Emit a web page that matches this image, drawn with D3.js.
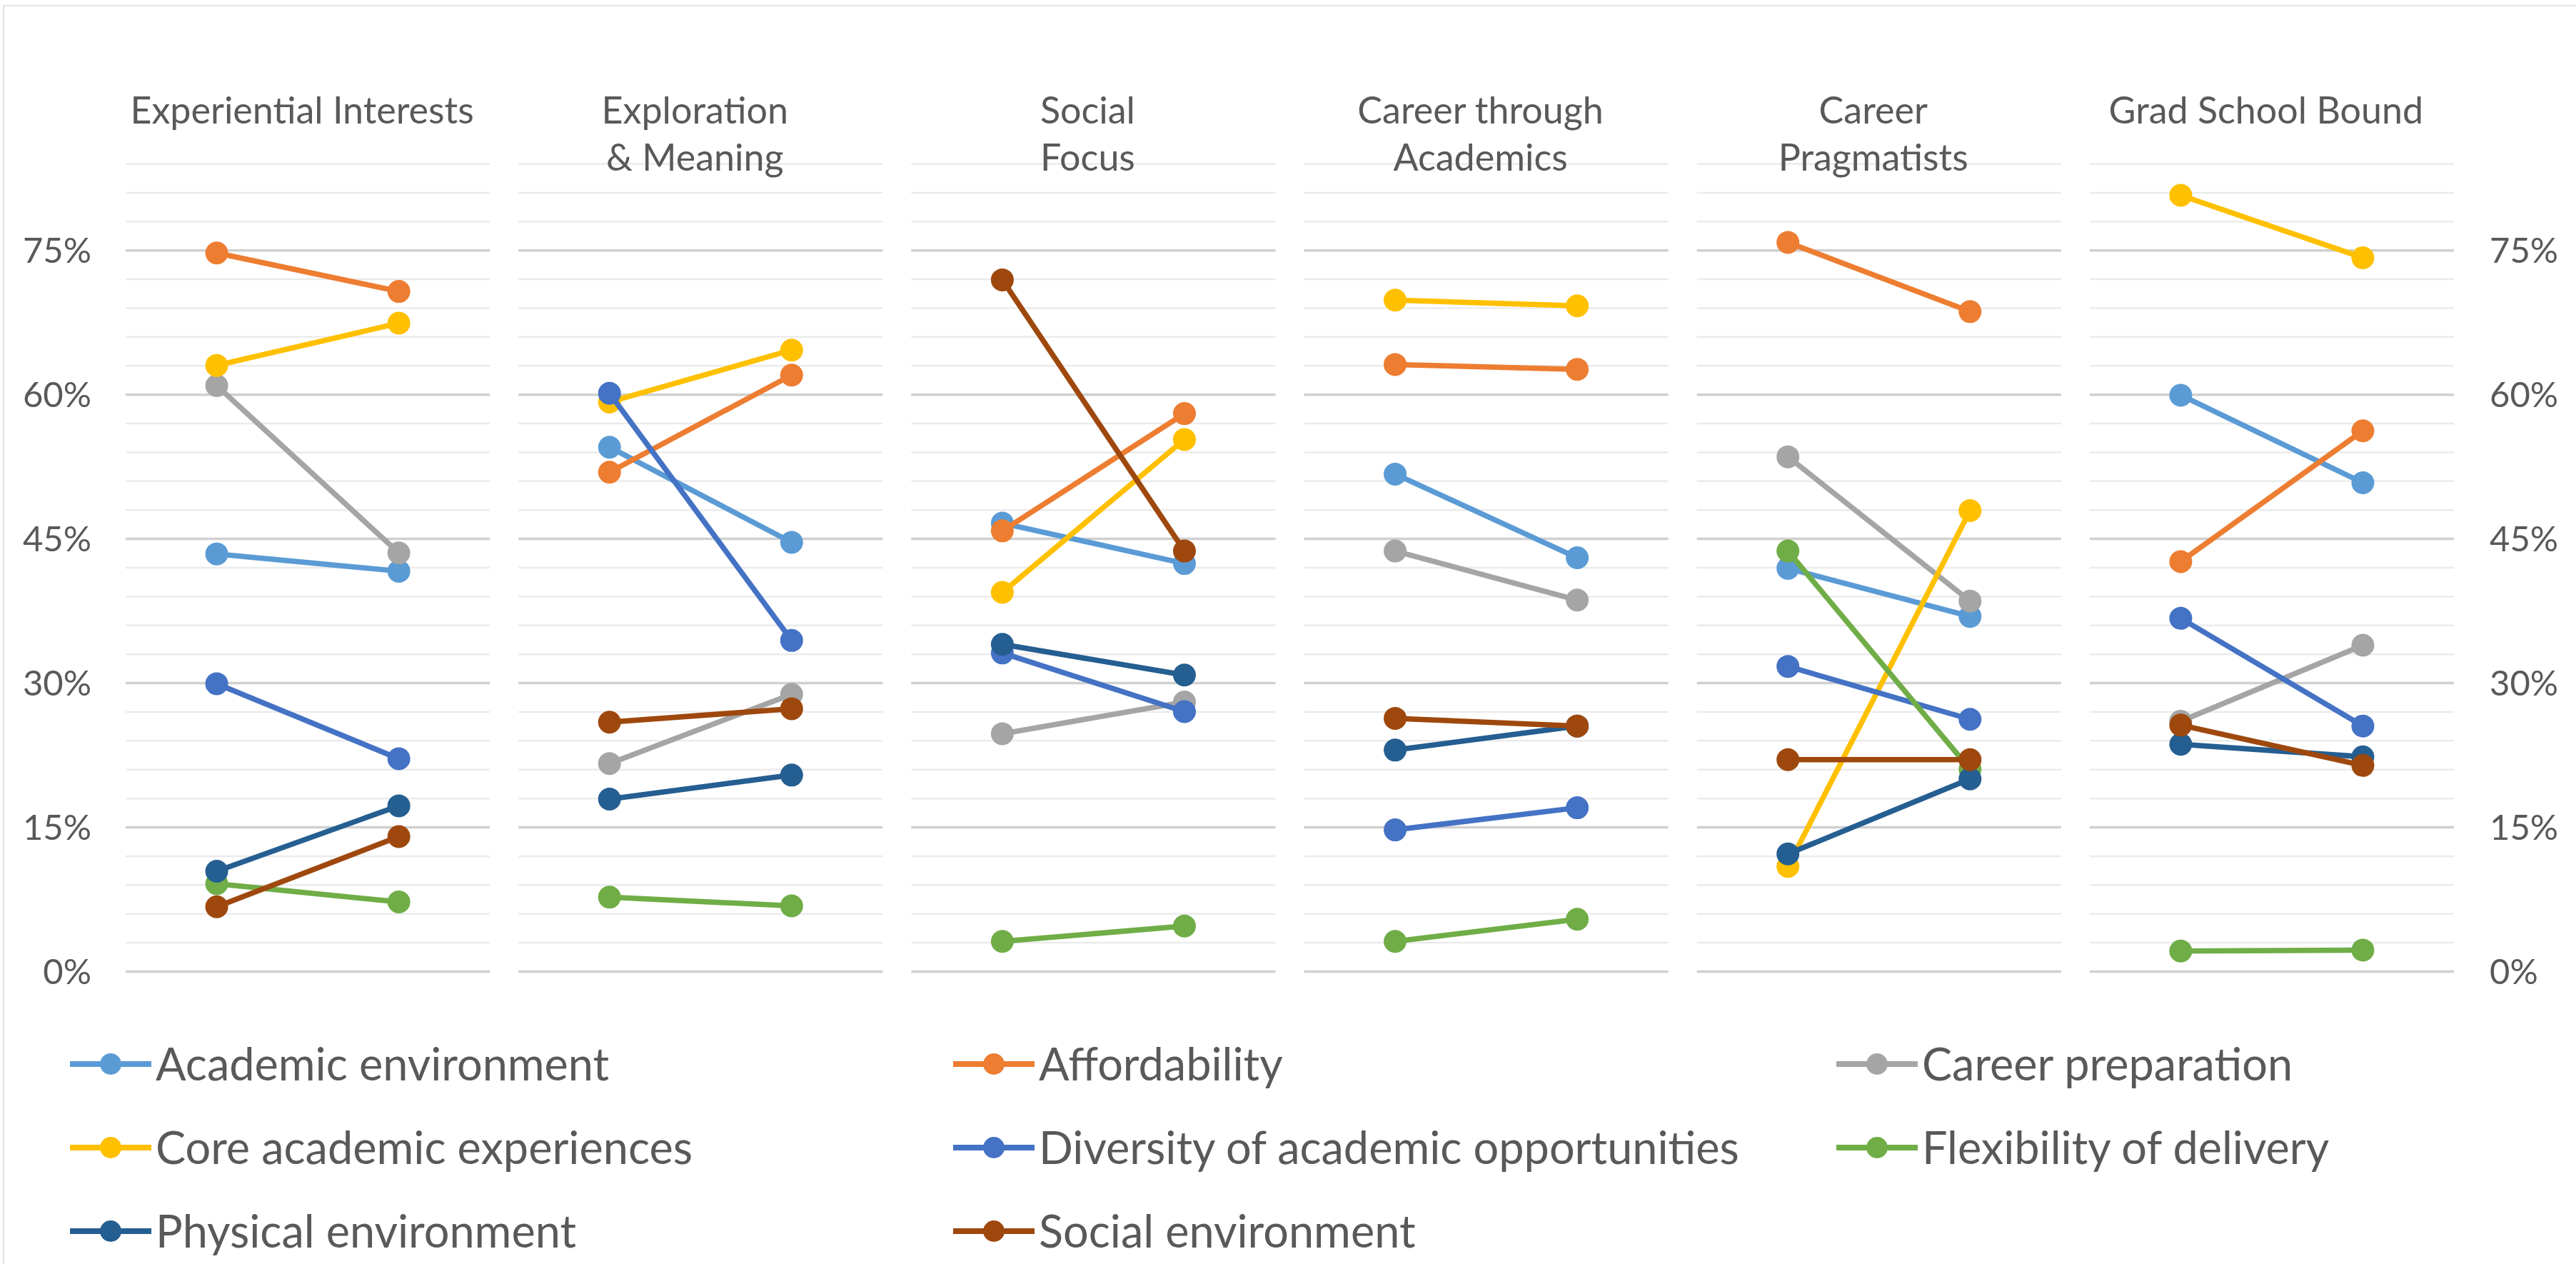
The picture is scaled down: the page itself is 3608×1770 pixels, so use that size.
<!DOCTYPE html>
<html><head><meta charset="utf-8">
<script src="https://cdn.jsdelivr.net/npm/d3@7"></script>
<style>
html,body{margin:0;padding:0;background:#fff;}
svg{display:block;}
text{font-family:Lato,"Open Sans",sans-serif;fill:#595959;}
</style>
</head><body>
<svg id="chart" width="3608" height="1770"></svg>
<script>
// ---------- data ----------
const groups = ["Experiential Interests", "Exploration & Meaning", "Social Focus",
                "Career through Academics", "Career Pragmatists", "Grad School Bound"];
const titleLines = [["Experiential Interests"], ["Exploration", "& Meaning"], ["Social", "Focus"],
                    ["Career through", "Academics"], ["Career", "Pragmatists"], ["Grad School Bound"]];
const periods = ["first", "second"];
const seriesNames = ["Academic environment", "Affordability", "Career preparation",
                     "Core academic experiences", "Diversity of academic opportunities",
                     "Flexibility of delivery", "Physical environment", "Social environment"];
const seriesColors = ["#5B9BD5", "#ED7D31", "#A5A5A5", "#FFC000", "#4472C4", "#70AD47", "#255E91", "#9E480E"];
// values in percent, two per group (first, second), groups in order above
const academicEnvironment = [43.4, 41.6, 54.5, 44.6, 46.6, 42.4, 51.7, 43.0, 41.9, 36.9, 59.9, 50.8];
const affordability       = [74.7, 70.7, 51.9, 62.0, 45.8, 58.0, 63.1, 62.6, 75.8, 68.6, 42.6, 56.2];
const careerPreparation   = [60.9, 43.5, 21.6, 28.8, 24.7, 28.0, 43.7, 38.6, 53.5, 38.5, 26.0, 33.9];
const coreAcademic        = [63.0, 67.4, 59.2, 64.6, 39.4, 55.3, 69.8, 69.2, 10.9, 47.9, 80.7, 74.2];
const diversity           = [29.9, 22.1, 60.1, 34.4, 33.1, 27.0, 14.7, 17.0, 31.7, 26.2, 36.7, 25.5];
const flexibility         = [9.1, 7.2, 7.7, 6.8, 3.1, 4.7, 3.1, 5.4, 43.7, 21.0, 2.1, 2.2];
const physicalEnvironment = [10.4, 17.2, 17.9, 20.4, 34.0, 30.8, 23.0, 25.5, 12.2, 20.0, 23.6, 22.3];
const socialEnvironment   = [6.7, 14.0, 25.9, 27.3, 71.9, 43.7, 26.3, 25.5, 22.0, 22.0, 25.6, 21.4];
const seriesValues = [academicEnvironment, affordability, careerPreparation, coreAcademic,
                      diversity, flexibility, physicalEnvironment, socialEnvironment];
const yTickLabels = [0, 0.15, 0.30, 0.45, 0.60, 0.75];
const yMax = 0.84;
const gridStep = 0.03;

// ---------- layout ----------
const svg = d3.select("#chart");
const x = d3.scaleBand().domain(groups).range([176, 3437]).paddingInner(0.0727);
const bw = x.bandwidth();
const xp = d3.scalePoint().domain(periods).range([0, bw]).padding(0.5);
const y = d3.scaleLinear().domain([0, yMax]).range([1360, 229]);
const gridValues = d3.range(0, Math.round(yMax / gridStep) + 1).map(i => +(i * gridStep).toFixed(2));
const isMajor = v => Math.abs(v / 0.15 - Math.round(v / 0.15)) < 1e-6;

// chart border
svg.append("rect").attr("x", 5).attr("y", 8).attr("width", 3700).attr("height", 1900)
  .attr("fill", "none").attr("stroke", "#e3e3e3").attr("stroke-width", 2);

// gridlines per panel
groups.forEach(g => {
  const ax = svg.append("g").attr("transform", `translate(${x(g)},0)`)
    .call(d3.axisLeft(y).tickValues(gridValues).tickSize(-bw).tickFormat(""));
  ax.select(".domain").remove();
  ax.selectAll(".tick line")
    .attr("stroke", d => isMajor(d) ? "#d0d0d0" : "#ebebeb")
    .attr("stroke-width", d => isMajor(d) ? 3.5 : 2.5);
});

// axes labels
const fmt = d3.format(".0%");
const leftAx = svg.append("g").attr("transform", "translate(128,0)")
  .call(d3.axisLeft(y).tickValues(yTickLabels).tickFormat(fmt).tickSize(0).tickPadding(0));
const rightAx = svg.append("g").attr("transform", "translate(3487,0)")
  .call(d3.axisRight(y).tickValues(yTickLabels).tickFormat(fmt).tickSize(0).tickPadding(0));
[leftAx, rightAx].forEach(a => {
  a.select(".domain").remove();
  a.selectAll("text").attr("font-size", 49).attr("font-family", "Lato").attr("fill", "#595959").attr("dy", "0.36em");
});

// titles
groups.forEach((g, i) => {
  const t = svg.append("text").attr("text-anchor", "middle").attr("font-size", 52)
    .attr("x", x(g) + bw / 2 - 8).attr("y", 173);
  titleLines[i].forEach((ln, j) => {
    t.append("tspan").attr("x", x(g) + bw / 2 - 8).attr("dy", j === 0 ? 0 : 66).text(ln);
  });
});

// series
const line = d3.line().x(d => d.x).y(d => d.y);
seriesNames.forEach((name, s) => {
  const vals = seriesValues[s];
  const gS = svg.append("g");
  groups.forEach((g, gi) => {
    const pts = periods.map((p, pi) => ({ x: x(g) + xp(p), y: y(vals[gi * 2 + pi] / 100) }));
    gS.append("path").attr("d", line(pts)).attr("fill", "none")
      .attr("stroke", seriesColors[s]).attr("stroke-width", 7.5).attr("stroke-linecap", "round");
    gS.selectAll(null).data(pts).enter().append("circle")
      .attr("cx", d => d.x).attr("cy", d => d.y).attr("r", 16).attr("fill", seriesColors[s]);
  });
});

// legend
const legCols = 3, legX0 = 98, legDX = 1237, legY0 = 1490, legDY = 117;
seriesNames.forEach((name, s) => {
  const c = s % legCols, r = Math.floor(s / legCols);
  const lx = legX0 + c * legDX, ly = legY0 + r * legDY;
  const lg = svg.append("g").attr("transform", `translate(${lx},${ly})`);
  lg.append("line").attr("x1", 0).attr("x2", 114).attr("y1", 0).attr("y2", 0)
    .attr("stroke", seriesColors[s]).attr("stroke-width", 8);
  lg.append("circle").attr("cx", 57).attr("cy", 0).attr("r", 15).attr("fill", seriesColors[s]);
  lg.append("text").attr("x", 120).attr("y", 0).attr("dy", "0.36em").attr("font-size", 63).text(name);
});
</script>
</body></html>
